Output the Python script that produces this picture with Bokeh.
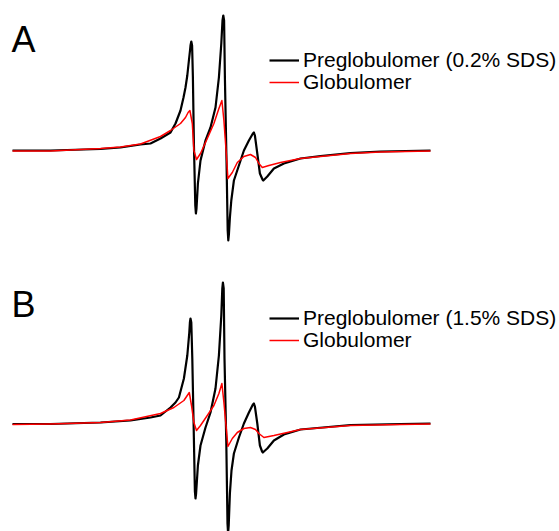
from bokeh.plotting import figure
from bokeh.models import Range1d, Legend, LegendItem, Label
from bokeh.layouts import column
from bokeh.embed import file_html
from bokeh.resources import INLINE

# Magnetic field (G) and EPR intensity (a.u.)
# Panel A: Preglobulomer (0.2% SDS)
a_pre_field = [3380, 3399, 3424, 3434, 3444, 3449, 3454, 3459, 3461.5, 3464, 3465.5, 3466.5,
               3467.4, 3468.2, 3468.75, 3469.0,
               3469.4, 3469.8, 3470.2, 3470.7, 3471.4, 3471.7, 3472.0, 3472.7, 3474, 3476.5,
               3479, 3481.5, 3483.2, 3484.4, 3485.0, 3485.4, 3485.8, 3486.2, 3487, 3487.6,
               3487.9, 3488.2, 3488.7, 3489.4, 3490.7, 3493.2, 3495.7, 3498.2, 3500.2, 3500.7,
               3501.2, 3502.4, 3503.7, 3505.0, 3505.4, 3505.9, 3507.4, 3510.7, 3515.7, 3524,
               3534, 3549, 3564, 3589]
a_pre_int = [0, 0, 1.5, 3, 6, 7, 12, 18, 27, 40, 53, 63,
             75, 90, 100, 105,
             109, 105, 73, 7, -55, -63, -58, -33, -10, 10,
             23, 43, 73, 107, 130, 135, 130, 73, -10, -80,
             -90, -84, -67, -50, -30, -15, 0, 10, 17, 18,
             15, -3, -23, -29, -30, -29, -26, -18, -13, -8,
             -5.5, -2.5, -1, 0]
# Panel A: Globulomer
a_glob_field = [3380, 3399, 3424, 3434, 3444, 3454, 3459, 3464, 3466.5, 3467.8, 3468.7, 3469.9,
                3470.7, 3472, 3474, 3477.4, 3480.7, 3483.2, 3484.7, 3485.7, 3486.9, 3487.7,
                3489.9, 3492.4, 3495.7, 3499, 3501.5, 3503.2, 3504.9, 3508.2, 3514, 3524,
                3534, 3549, 3564, 3589]
a_glob_int = [-0.5, -0.5, 2, 3.5, 6.5, 14, 20, 27, 33, 38, 40, 27,
              0, -9, -3, 12, 27, 42, 50, 30, -3, -28,
              -22, -12, -6, -4, -7, -13, -17, -15, -12, -8,
              -6, -3, -1.5, -0.5]

# Panel B: Preglobulomer (1.5% SDS)
b_pre_field = [3380, 3399, 3424, 3439, 3449, 3454, 3459, 3461.5, 3463.2, 3465.7, 3467.4, 3468.4,
               3468.7, 3469.0, 3469.4, 3469.9, 3470.5, 3471.2, 3471.5, 3471.8, 3472.7, 3474,
               3476.5, 3479, 3481.5, 3483.2, 3484.4, 3484.9, 3485.2, 3485.6, 3486, 3486.9,
               3487.5, 3487.8, 3488.1, 3488.7, 3489.5, 3490.7, 3493.2, 3495.7, 3498.2, 3500.2,
               3500.7, 3501.2, 3502.4, 3503.7, 3504.8, 3505.2, 3505.7, 3507.4, 3510.7, 3515.7,
               3524, 3549, 3574, 3589]
b_pre_int = [-0.5, -0.5, 1, 3, 6, 8, 16, 21, 26, 45, 68, 91,
             101, 105, 101, 65, 5, -68, -75, -70, -42, -22,
             -4, 11, 35, 68, 108, 135, 141, 135, 65, -19,
             -100, -110, -102, -70, -47, -30, -14, 0, 11, 19,
             20, 17, 0, -22, -28, -29, -28, -25, -17, -11,
             -6, -1.5, -0.5, 0]
# Panel B: Globulomer
b_glob_field = [3380, 3399, 3424, 3439, 3454, 3460.7, 3465.7, 3468.4, 3469.5, 3470.7, 3472, 3474,
                3477.4, 3480.7, 3483.2, 3484.7, 3485.7, 3486.9, 3487.7, 3489.9, 3492.4, 3495.7,
                3499, 3501.5, 3503.2, 3505.7, 3510.7, 3517.4, 3524, 3549, 3574, 3589]
b_glob_int = [-1, -0.5, 1, 3.5, 10, 16, 23, 31, 18, 1, -7, -2,
              8, 18, 30, 40, 21, -5, -23, -15, -9, -5,
              -4, -6, -10, -14, -12, -9, -6, -2, -1, -0.5]

panel_labels = ["A", "B"]
legend_labels = [["Preglobulomer (0.2% SDS)", "Globulomer"],
                 ["Preglobulomer (1.5% SDS)", "Globulomer"]]
colors = ["#000000", "#ff0000"]

FONT = "Liberation Sans"
W = 559


def make_legend(item, y_from_bottom):
    return Legend(items=[item], location=(269, y_from_bottom), orientation="vertical",
                  padding=0, margin=0, spacing=0, glyph_width=30, glyph_height=20,
                  label_height=20, label_standoff=4,
                  label_text_font=FONT, label_text_font_size="21px",
                  label_text_color="black",
                  border_line_color=None, background_fill_alpha=0)


def make_panel(pre_f, pre_i, glob_f, glob_i, ylo, yhi, height, label, label_y, labels,
               row_centers):
    p = figure(width=W, height=height, output_backend="svg", toolbar_location=None,
               x_range=Range1d(3374, 3653.5), y_range=Range1d(ylo, yhi),
               x_axis_type=None, y_axis_type=None, min_border=0,
               background_fill_color="white", border_fill_color="white")
    p.grid.visible = False
    p.outline_line_color = None
    r_pre = p.line(pre_f, pre_i, line_color=colors[0], line_width=2.2, line_join="round")
    r_glob = p.line(glob_f, glob_i, line_color=colors[1], line_width=1.5, line_join="round")
    half = 12.3
    p.add_layout(make_legend(LegendItem(label=labels[0], renderers=[r_pre]),
                             height - (row_centers[0] + half)))
    p.add_layout(make_legend(LegendItem(label=labels[1], renderers=[r_glob]),
                             height - (row_centers[1] + half)))
    p.add_layout(Label(x=3379.5, y=label_y, text=label, text_font=FONT,
                       text_font_size="36px", text_color="black",
                       text_baseline="alphabetic"))
    return p


pA = make_panel(a_pre_field, a_pre_int, a_glob_field, a_glob_int, -116, 150, 266,
                panel_labels[0], 110.7, legend_labels[0], (60, 81.7))
pB = make_panel(b_pre_field, b_pre_int, b_glob_field, b_glob_int, -108, 157, 265,
                panel_labels[1], 118.7, legend_labels[1], (51.7, 73.3))

layout = column(pA, pB, spacing=0)
open("out.html", "w").write(file_html(layout, INLINE))
